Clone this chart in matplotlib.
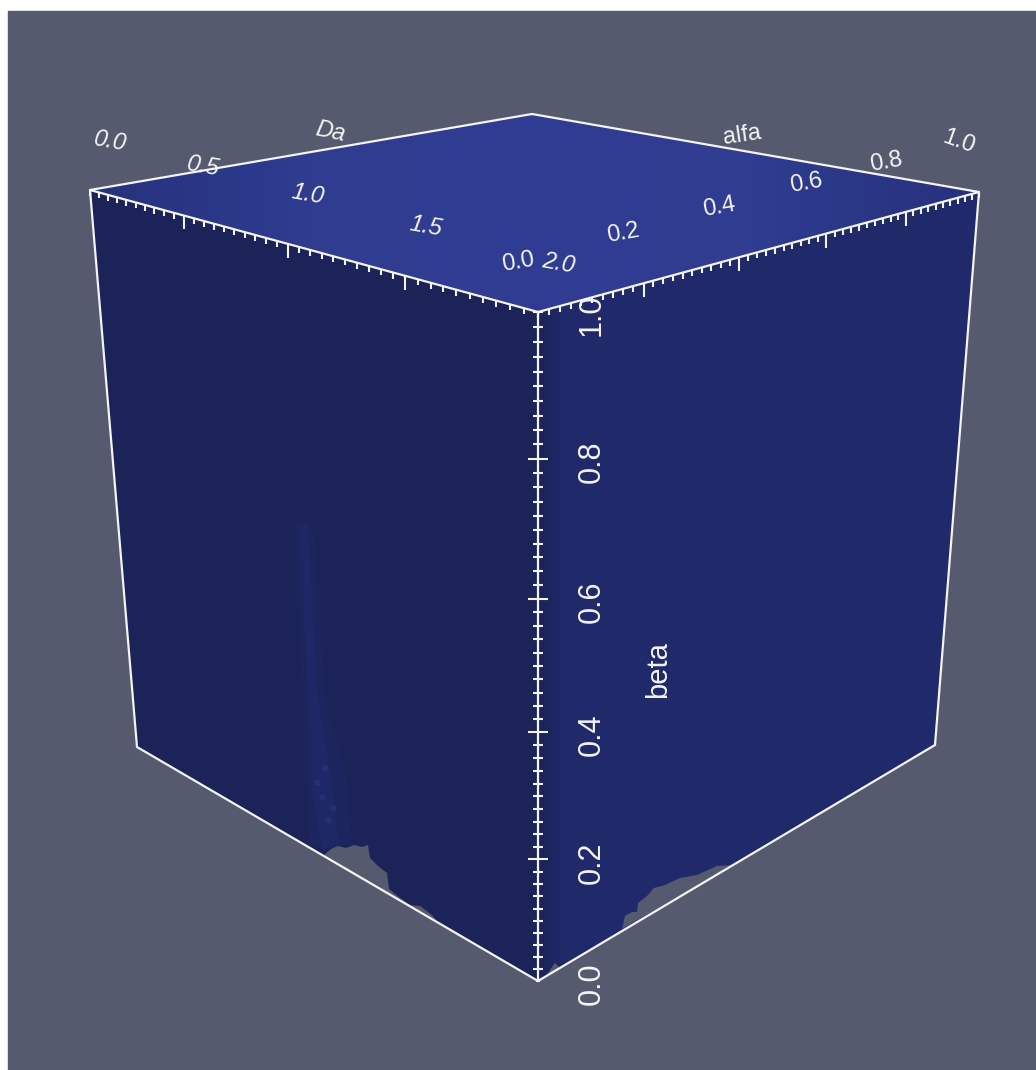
#!/usr/bin/env python3
"""
Cube view of the (Da, alfa, beta) domain, screen-space projection.
"""
import matplotlib
matplotlib.use("Agg")
import matplotlib.pyplot as plt
from matplotlib.collections import LineCollection
from matplotlib.patches import Polygon, Rectangle
import numpy as np

W, H = 1036, 1070

# axis values
DA_MAJOR    = [0.0, 0.5, 1.0, 1.5, 2.0]
ALFA_MAJOR  = [0.0, 0.2, 0.4, 0.6, 0.8, 1.0]
BETA_MAJOR  = [0.0, 0.2, 0.4, 0.6, 0.8, 1.0]
DA_LABELS   = ["0.0", "0.5", "1.0", "1.5", "2.0"]
ALFA_LABELS = ["0.0", "0.2", "0.4", "0.6", "0.8", "1.0"]
BETA_LABELS = ["0.0", "0.2", "0.4", "0.6", "0.8", "1.0"]
DA_MINOR_STEP   = 0.05
ALFA_MINOR_STEP = 0.02
BETA_MINOR_STEP = 0.02

# cube corners as they sit on the screen
TOP_BACK  = (532, 114)
TOP_LEFT  = (90, 190)
TOP_RIGHT = (979, 192)
TOP_FRONT = (538, 312)
BOT_FRONT = (538, 981)
BOT_LEFT  = (137, 747)
BOT_RIGHT = (935, 745)

# perspective foreshortening of each axis
K_DA, K_ALFA, K_BETA = 1.262, 0.795, 1.125

# regions of the surface that are missing (background shows through)
HOLE_LEFT = [(323, 856), (331, 849), (338, 846), (346, 848), (354, 845), (362, 847),
             (368, 845), (370, 858), (378, 866), (387, 873), (389, 889), (400, 898),
             (410, 905), (420, 906), (432, 915), (437, 921)]
HOLE_RIGHT = [(622, 929), (625, 916), (632, 912), (637, 912), (638, 903), (647, 896),
              (654, 888), (665, 885), (680, 878), (697, 875), (717, 866), (733, 865)]
HOLE_CORNER = [(546, 976), (550, 970), (555, 963), (560, 968)]

# faint streak on the left face
STREAK_OUTER = [(295, 523), (313, 523), (325, 700), (345, 770), (352, 845),
                (330, 848), (310, 845)]
STREAK_INNER = [(300, 525), (308, 525), (318, 700), (333, 790), (338, 845),
                (322, 850), (312, 790)]
STREAK_DOTS_X = [317, 322, 328, 333, 325]
STREAK_DOTS_Y = [782, 797, 820, 808, 768]

BG      = "#565a6e"
LEFT_C  = "#1b2359"
RIGHT_C = "#20296a"
TOP_C   = "#2e3b8e"
WHITE   = "#f4f4f6"


def along(a, b, t, k):
    # value t in 0..1 to a screen point on edge a-b, with perspective
    t = np.asarray(t, dtype=float)
    u = t / (t + k * (1 - t))
    return a[0] + (b[0] - a[0]) * u, a[1] + (b[1] - a[1]) * u


def clipped_gradient(ax, poly, extent, stops, horizontal=True):
    cmap = matplotlib.colors.LinearSegmentedColormap.from_list("g", stops)
    g = np.linspace(0, 1, 128)
    g = g[None, :] if horizontal else g[:, None]
    im = ax.imshow(g, extent=extent, cmap=cmap, aspect="auto", zorder=2,
                   interpolation="bilinear")
    im.set_clip_path(poly)


def plot():
    fig = plt.figure(figsize=(W / 100, H / 100), dpi=100, facecolor="white")
    ax = fig.add_axes([0, 0, 1, 1])
    ax.axis("off")
    plt.rcParams["font.family"] = ["Liberation Sans", "DejaVu Sans"]

    ax.add_patch(Rectangle((8, 11), W - 8, H - 11, color=BG, zorder=0))

    # faces
    left = Polygon([TOP_LEFT, TOP_FRONT, BOT_FRONT, BOT_LEFT], color=LEFT_C, zorder=1)
    right = Polygon([TOP_FRONT, TOP_RIGHT, BOT_RIGHT, BOT_FRONT], color=RIGHT_C, zorder=1)
    top = Polygon([TOP_LEFT, TOP_BACK, TOP_RIGHT, TOP_FRONT], color=TOP_C, zorder=1)
    for p in (left, right, top):
        ax.add_patch(p)

    # shading
    clipped_gradient(ax, right, (538, 979, 1000, 100),
                     [(0, "#1b2359"), (0.05, "#20296a"), (1, "#20296a")])
    clipped_gradient(ax, top, (90, 979, 320, 110),
                     ["#26327c", "#2f3c90", "#2f3d92", "#2f3c90", "#26327c"])

    # streak and holes
    ax.add_patch(Polygon(STREAK_OUTER, color="#1c255e", lw=0, zorder=3))
    ax.add_patch(Polygon(STREAK_INNER, color="#1f2866", lw=0, zorder=3))
    ax.scatter(STREAK_DOTS_X, STREAK_DOTS_Y, s=22, color="#262f73", lw=0, zorder=3)
    for hole in (HOLE_LEFT, HOLE_RIGHT, HOLE_CORNER):
        ax.add_patch(Polygon(hole, color=BG, lw=0, zorder=3))

    # box edges
    edges = [(TOP_LEFT, TOP_BACK), (TOP_BACK, TOP_RIGHT), (TOP_LEFT, TOP_FRONT),
             (TOP_FRONT, TOP_RIGHT), (TOP_FRONT, BOT_FRONT), (TOP_LEFT, BOT_LEFT),
             (TOP_RIGHT, BOT_RIGHT), (BOT_LEFT, BOT_FRONT), (BOT_FRONT, BOT_RIGHT)]
    ax.add_collection(LineCollection(edges, colors=WHITE, linewidths=1.6, zorder=5,
                                     capstyle="round"))

    # ticks: Da and alfa hang below the top edges, beta straddles the vertical
    segs_minor, segs_major = [], []
    for a, b, k, top_val, step, majors in [
            (TOP_LEFT, TOP_FRONT, K_DA, 2.0, DA_MINOR_STEP, DA_MAJOR),
            (TOP_FRONT, TOP_RIGHT, K_ALFA, 1.0, ALFA_MINOR_STEP, ALFA_MAJOR)]:
        for v in np.arange(0, top_val + step / 2, step):
            x, y = along(a, b, v / top_val, k)
            is_major = any(abs(v - m) < 1e-6 for m in majors)
            ln = 14 if is_major and 0 < v < top_val else 6
            (segs_major if is_major else segs_minor).append([(x, y), (x, y + ln)])
    for v in np.arange(0, 1 + BETA_MINOR_STEP / 2, BETA_MINOR_STEP):
        x, y = along(BOT_FRONT, TOP_FRONT, v, K_BETA)
        is_major = any(abs(v - m) < 1e-6 for m in BETA_MAJOR)
        ln = 10 if is_major and 0 < v < 1 else 5
        if v == 0:
            ln = 2
        (segs_major if is_major else segs_minor).append([(x - ln, y), (x + ln, y)])
    ax.add_collection(LineCollection(segs_minor, colors=WHITE, linewidths=1.5, zorder=5))
    ax.add_collection(LineCollection(segs_major, colors=WHITE, linewidths=1.5, zorder=5))

    # tick labels
    for v, s in zip(DA_MAJOR, DA_LABELS):
        x, y = along(TOP_LEFT, TOP_FRONT, v / 2.0, K_DA)
        ax.text(x + 20, y - 49, s, color=WHITE, fontsize=17, style="italic",
                rotation=-10, ha="center", va="center", zorder=6)
    for v, s in zip(ALFA_MAJOR, ALFA_LABELS):
        x, y = along(TOP_FRONT, TOP_RIGHT, v, K_ALFA)
        rot = -20 if v == 1.0 else 10
        ax.text(x - 20, y - 50, s, color=WHITE, fontsize=17,
                rotation=rot, ha="center", va="center", zorder=6)
    for v, s in zip(BETA_MAJOR, BETA_LABELS):
        x, y = along(BOT_FRONT, TOP_FRONT, v, K_BETA)
        ax.text(x + 54, y + 3, s, color=WHITE, fontsize=22,
                rotation=90, ha="center", va="center", zorder=6)

    # axis titles
    ax.text(330, 132, "Da", color=WHITE, fontsize=17, style="italic", rotation=-12,
            ha="center", va="center", zorder=6)
    ax.text(742, 135, "alfa", color=WHITE, fontsize=17, rotation=8,
            ha="center", va="center", zorder=6)
    ax.text(658, 670, "beta", color=WHITE, fontsize=21, rotation=90,
            ha="center", va="center", zorder=6)

    ax.set_xlim(0, W)
    ax.set_ylim(H, 0)
    fig.savefig("out.png", dpi=100, facecolor="white")


if __name__ == "__main__":
    plot()
